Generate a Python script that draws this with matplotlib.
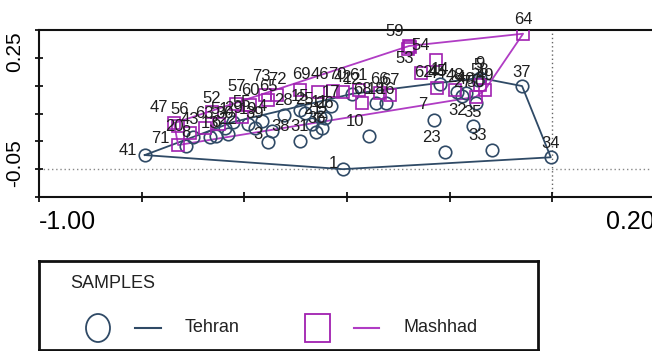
import numpy as np
import matplotlib
matplotlib.use("Agg")
import matplotlib.pyplot as plt
from matplotlib.patches import Ellipse, Rectangle
from matplotlib.transforms import ScaledTranslation

plt.rcParams["font.family"] = ["Liberation Sans", "DejaVu Sans"]
plt.rcParams["axes.unicode_minus"] = False

# ---- sample scores (dimension 1, dimension 2) ----
tehran_ids = list(range(1, 42))
tehran_x = [-0.408, -0.449, -0.554, -0.566, -0.145, -0.655, -0.231, -0.714, -0.141, -0.357,
            -0.453, -0.390, -0.667, -0.219, -0.492, -0.324, -0.431, -0.343, -0.593, -0.700,
            -0.468, -0.632, -0.209, -0.186, -0.482, -0.443, -0.176, -0.523, -0.622, -0.638,
            -0.492, -0.149, -0.118, -0.003, -0.155, -0.460, -0.059, -0.546, -0.579, -0.168,
            -0.794]
tehran_y = [-0.050, 0.061, 0.023, 0.080, 0.191, 0.039, 0.082, 0.012, 0.196, 0.039,
            0.091, 0.153, 0.036, 0.180, 0.109, 0.128, 0.120, 0.128, 0.072, 0.036,
            0.072, 0.045, -0.004, 0.158, 0.101, 0.088, 0.147, 0.096, 0.077, 0.061,
            0.026, 0.128, 0.001, -0.018, 0.066, 0.050, 0.174, 0.053, 0.061, 0.155,
            -0.012]

mashhad_ids = list(range(42, 74))
mashhad_x = [-0.408, -0.706, -0.225, -0.227, -0.457, -0.737, -0.190, -0.131, -0.149, -0.649,
             -0.663, -0.281, -0.277, -0.605, -0.729, -0.616, -0.141, -0.279, -0.589, -0.377,
             -0.256, -0.677, -0.057, -0.554, -0.336, -0.316, -0.371, -0.492, -0.427, -0.729,
             -0.536, -0.560]
mashhad_y = [0.158, 0.047, 0.169, 0.245, 0.158, 0.074, 0.164, 0.164, 0.145, 0.072,
             0.104, 0.274, 0.279, 0.091, 0.066, 0.126, 0.177, 0.282, 0.123, 0.164,
             0.209, 0.061, 0.315, 0.136, 0.155, 0.150, 0.128, 0.164, 0.161, 0.015,
             0.150, 0.150]

x_ticks = [-1.0, -0.8, -0.6, -0.4, -0.2, 0.0, 0.2]
x_tick_labels = ["-1.00", "", "", "", "", "", "0.20"]
y_ticks = [-0.125, -0.05, 0.025, 0.10, 0.175, 0.25, 0.325]
y_tick_labels = ["", "-0.05", "", "", "", "0.25", ""]

# ---- styling ----
TEHRAN_COLOR = "#2f4a66"
MASHHAD_COLOR = "#a020b0"
MASHHAD_LINE = "#b03cc4"
LABEL_COLOR = "#1e1e1e"
DEFAULT_OFFSET = (0, 14)
label_offsets = {
    41: (-17, 5), 1: (-10, 6), 7: (-11, 16), 32: (-18, -7), 23: (-14, 15),
    33: (-14, 15), 10: (-14, 15), 3: (-10, 8), 38: (9, 4), 59: (-14, 14),
    54: (11, 2), 53: (-3, -10), 47: (-15, 16), 56: (2, 17), 71: (-18, 7),
    20: (-19, 11), 62: (3, 1), 73: (-3, 18), 72: (0, 15), 69: (2, 15),
    46: (2, 17), 70: (4, 16), 57: (1, 17), 45: (2, -12),
}


def convex_hull(xs, ys):
    pts = sorted(set(zip(xs, ys)))

    def cross(o, a, b):
        return (a[0] - o[0]) * (b[1] - o[1]) - (a[1] - o[1]) * (b[0] - o[0])

    lower, upper = [], []
    for p in pts:
        while len(lower) >= 2 and cross(lower[-2], lower[-1], p) <= 0:
            lower.pop()
        lower.append(p)
    for p in reversed(pts):
        while len(upper) >= 2 and cross(upper[-2], upper[-1], p) <= 0:
            upper.pop()
        upper.append(p)
    hull = lower[:-1] + upper[:-1]
    hull.append(hull[0])
    return [h[0] for h in hull], [h[1] for h in hull]


W, H = 652, 351
fig = plt.figure(figsize=(W / 100, H / 100), dpi=100)
fig.patch.set_facecolor("white")

# main plot area (right edge runs slightly past the canvas)
left_px, right_px, top_px, bottom_px = 39, 655, 30, 197
ax = fig.add_axes([left_px / W, 1 - bottom_px / H,
                   (right_px - left_px) / W, (bottom_px - top_px) / H])
ax.set_xlim(-1.0, 0.2)
ax.set_ylim(-0.125, 0.325)

ax.axvline(0.0, color="#666666", lw=1.0, ls=(0, (1, 2)), zorder=1)
ax.axhline(-0.05, color="#888888", lw=1.0, ls=(0, (1, 2)), zorder=1)

groups = [
    (tehran_ids, tehran_x, tehran_y, "o", TEHRAN_COLOR, TEHRAN_COLOR),
    (mashhad_ids, mashhad_x, mashhad_y, "s", MASHHAD_COLOR, MASHHAD_LINE),
]
for ids, xs, ys, mk, col, lcol in groups:
    hx, hy = convex_hull(xs, ys)
    ax.plot(hx, hy, color=lcol, lw=1.3, zorder=2)
    ax.plot(xs, ys, ls="none", marker=mk, ms=9, mfc="none", mec=col, mew=1.2, zorder=3)
    for i, x, y in zip(ids, xs, ys):
        dx, dy = label_offsets.get(i, DEFAULT_OFFSET)
        ax.annotate(str(i), (x, y), xytext=(dx, dy), textcoords="offset pixels",
                    ha="center", va="center", fontsize=12, color=LABEL_COLOR, zorder=4)

for side in ["left", "bottom", "top"]:
    ax.spines[side].set_linewidth(1.5)
    ax.spines[side].set_color("#111111")
ax.spines["right"].set_visible(False)

ax.set_xticks(x_ticks)
ax.set_xticklabels(x_tick_labels, fontsize=18)
ax.set_yticks(y_ticks)
ax.set_yticklabels(y_tick_labels, fontsize=15, rotation=90, va="center")
ax.tick_params(axis="x", direction="inout", length=7, width=1.2, pad=6)
ax.tick_params(axis="y", direction="inout", length=6, width=1.2, pad=8)
xl = ax.get_xticklabels()
xl[0].set_ha("left")
xl[-1].set_ha("right")
for lab in ax.get_yticklabels():
    lab.set_transform(lab.get_transform() + ScaledTranslation(0, 6 / 100, fig.dpi_scale_trans))

# legend box
lg_l, lg_t, lg_r, lg_b = 39, 261, 538, 350
lax = fig.add_axes([lg_l / W, 1 - lg_b / H, (lg_r - lg_l) / W, (lg_b - lg_t) / H])
lax.set_xlim(0, lg_r - lg_l)
lax.set_ylim(lg_b - lg_t, 0)
lax.set_xticks([])
lax.set_yticks([])
for s in lax.spines.values():
    s.set_linewidth(2)
    s.set_color("#111111")
lax.text(31, 22, "SAMPLES", fontsize=13, va="center", ha="left", color="#222222")
lax.add_patch(Ellipse((59, 67), 24, 28, fill=False, ec=TEHRAN_COLOR, lw=1.3))
lax.plot([96, 122], [67, 67], color=TEHRAN_COLOR, lw=1.5)
lax.text(146, 67, "Tehran", fontsize=13, va="center", ha="left", color="#222222")
lax.add_patch(Rectangle((266, 53), 25, 28, fill=False, ec=MASHHAD_COLOR, lw=1.3))
lax.plot([315, 340], [67, 67], color=MASHHAD_LINE, lw=1.5)
lax.text(365, 67, "Mashhad", fontsize=13, va="center", ha="left", color="#222222")

fig.savefig("out.png", dpi=100)
